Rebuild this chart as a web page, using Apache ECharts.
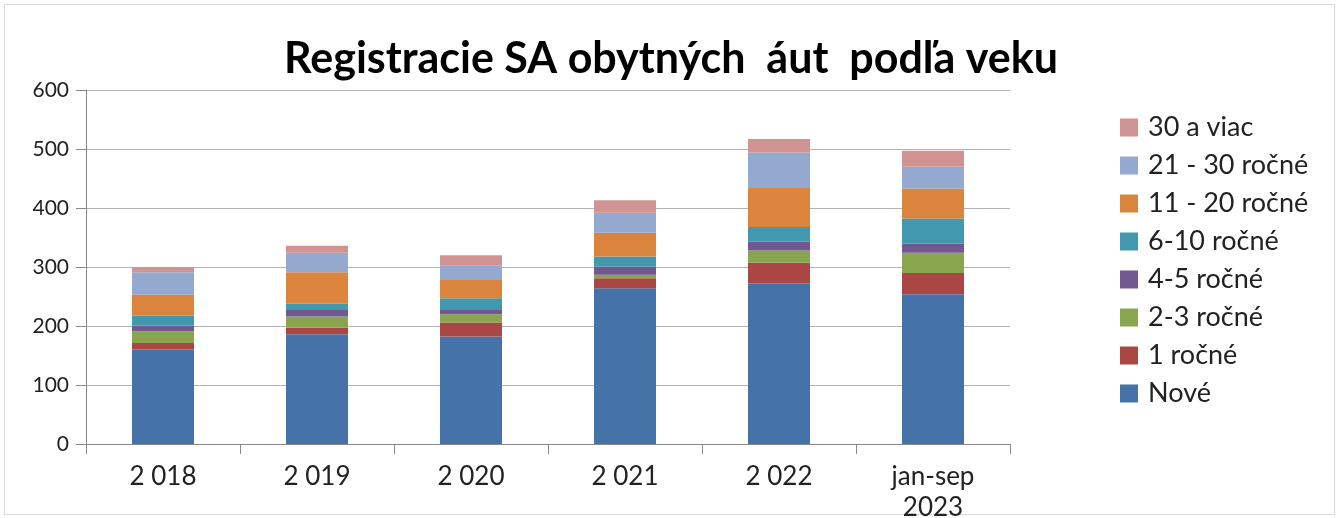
<!DOCTYPE html>
<html>
<head>
<meta charset="utf-8">
<script src="https://cdn.jsdelivr.net/npm/echarts@6/dist/echarts.min.js"></script>
<style>
  html, body { margin: 0; padding: 0; background: #fff; }
  #chart { width: 1339px; height: 518px; }
</style>
</head>
<body>
<div id="chart"></div>
<script>
// roky / kategórie
const categories = ['2 018', '2 019', '2 020', '2 021', '2 022', 'jan-sep\n2023'];

// hodnoty podľa veku (odčítané z grafu)
const nove      = [160, 186, 182, 264, 272, 254];
const rocne1    = [11, 11, 24, 17, 35, 36];
const rocne2_3  = [20, 19, 14, 6, 21, 34];
const rocne4_5  = [10, 11, 7, 14, 15, 16];
const rocne6_10 = [17, 11, 20, 17, 25, 42];
const rocne11_20 = [35, 53, 31, 40, 66, 51];
const rocne21_30 = [38, 33, 24, 34, 60, 37];
const viac30    = [9, 12, 18, 21, 23, 27];

const yTicks = [0, 100, 200, 300, 400, 500, 600];

const seriesDefs = [
  { name: 'Nové', data: nove, color: '#4572a7' },
  { name: '1 ročné', data: rocne1, color: '#aa4643' },
  { name: '2-3 ročné', data: rocne2_3, color: '#89a54e' },
  { name: '4-5 ročné', data: rocne4_5, color: '#71588f' },
  { name: '6-10 ročné', data: rocne6_10, color: '#4198af' },
  { name: '11 - 20 ročné', data: rocne11_20, color: '#db843d' },
  { name: '21 - 30 ročné', data: rocne21_30, color: '#93a9cf' },
  { name: '30 a viac', data: viac30, color: '#d19392' }
];

const chart = echarts.init(document.getElementById('chart'));
const font = 'Lato, "DejaVu Sans", sans-serif';

const option = {
  backgroundColor: '#fff',
  animation: false,
  textStyle: { fontFamily: font },
  graphic: [{
    type: 'rect',
    shape: { x: 4.5, y: 4.5, width: 1330, height: 510 },
    style: { fill: 'none', stroke: '#d9d9d9', lineWidth: 1 },
    silent: true
  }],
  title: {
    text: 'Registracie SA obytných  áut  podľa veku',
    left: 666,
    textAlign: 'center',
    top: 33,
    textStyle: { fontFamily: font, fontSize: 43, fontWeight: 'bold', color: '#000' }
  },
  legend: {
    orient: 'vertical',
    left: 1115,
    top: 109,
    itemWidth: 18,
    itemHeight: 18,
    itemGap: 11,
    icon: 'rect',
    data: seriesDefs.map(s => s.name).reverse(),
    textStyle: { fontFamily: font, fontSize: 27, color: '#222', padding: [0, 0, 0, 5] }
  },
  grid: { left: 86, right: 329, top: 90, bottom: 74, outerBoundsMode: 'none' },
  xAxis: {
    type: 'category',
    data: categories,
    axisLine: { lineStyle: { color: '#888' } },
    axisTick: { show: true, length: 10, lineStyle: { color: '#888' } },
    axisLabel: { fontFamily: font, fontSize: 26, color: '#222', margin: 17, lineHeight: 31 }
  },
  yAxis: {
    type: 'value',
    min: yTicks[0],
    max: yTicks[yTicks.length - 1],
    interval: 100,
    axisLine: { show: true, lineStyle: { color: '#888' } },
    axisTick: { show: true, length: 10, lineStyle: { color: '#888' } },
    axisLabel: { fontFamily: font, fontSize: 21, color: '#222', margin: 17 },
    splitLine: { lineStyle: { color: '#b3b3b3' } }
  },
  series: seriesDefs.map(s => ({
    name: s.name,
    type: 'bar',
    stack: 'total',
    data: s.data,
    barWidth: 62,
    itemStyle: { color: s.color },
    emphasis: { disabled: true }
  }))
};

chart.setOption(option);
</script>
</body>
</html>
